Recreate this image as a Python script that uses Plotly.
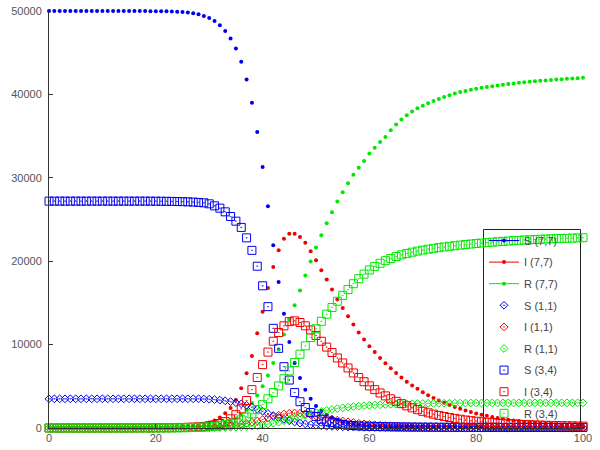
import plotly.graph_objects as go

t = list(range(101))

S77 = [50000, 50000, 50000, 50000, 50000, 50000, 50000, 50000, 50000, 50000,
       50000, 50000, 50000, 50000, 50000, 50000, 49995, 49993, 49990, 49985,
       49980, 49972, 49960, 49945, 49920, 49885, 49830, 49740, 49600, 49400,
       49150, 48800, 48300, 47600, 46700, 45500, 43900, 41800, 39000, 35500,
       31300, 26600, 21900, 17500, 13700, 10300, 7800, 6000, 4600, 3500,
       2650, 2050, 1600, 1250, 980, 780, 630, 510, 420, 350,
       300, 260, 230, 205, 185, 170, 158, 148, 140, 133,
       127, 122, 118, 114, 111, 108, 105, 103, 101, 99,
       97, 96, 95, 94, 93, 92, 92, 91, 91, 90,
       90, 89, 89, 89, 88, 88, 88, 87, 87, 87, 87]

I77 = [1, 1, 1, 2, 2, 2, 3, 3, 4, 4,
       5, 6, 7, 8, 9, 11, 13, 15, 18, 22,
       27, 36, 50, 68, 95, 130, 180, 250, 340, 470,
       650, 900, 1250, 1760, 2400, 3360, 4760, 6560, 8640, 11360,
       13950, 16800, 19300, 21300, 22700, 23300, 23300, 22900, 22200, 21200,
       20100, 18900, 17800, 16600, 15450, 14400, 13400, 12400, 11450, 10600,
       9800, 9100, 8400, 7750, 7150, 6600, 6050, 5550, 5100, 4700,
       4300, 3930, 3600, 3300, 3020, 2760, 2520, 2300, 2100, 1920,
       1750, 1600, 1460, 1330, 1210, 1100, 1000, 910, 830, 760,
       690, 630, 575, 525, 480, 440, 400, 365, 335, 305, 280]

R77 = [0, 0, 0, 0, 0, 0, 1, 1, 1, 1,
       1, 1, 2, 2, 2, 3, 3, 3, 4, 4,
       4, 6, 8, 12, 17, 25, 38, 57, 85, 125,
       185, 270, 390, 560, 800, 1150, 1600, 2200, 3000, 3900,
       5000, 6300, 7800, 9400, 11200, 13000, 14720, 16480, 18280, 19960,
       21640, 23120, 24560, 25880, 27160, 28280, 29360, 30360, 31200, 32000,
       32900, 33600, 34300, 34900, 35700, 36400, 37000, 37500, 37950, 38330,
       38650, 38930, 39200, 39450, 39700, 39910, 40110, 40280, 40420, 40560,
       40680, 40790, 40890, 40990, 41080, 41160, 41240, 41320, 41390, 41450,
       41510, 41570, 41630, 41680, 41730, 41780, 41830, 41870, 41910, 41950, 41990]

S11 = [3500, 3500, 3500, 3500, 3500, 3500, 3500, 3500, 3500, 3500,
       3500, 3500, 3500, 3500, 3500, 3500, 3500, 3500, 3500, 3500,
       3500, 3500, 3500, 3500, 3500, 3500, 3500, 3500, 3500, 3480,
       3450, 3400, 3340, 3260, 3160, 3040, 2900, 2720, 2500, 2250,
       2000, 1740, 1490, 1260, 1050, 870, 720, 590, 490, 400,
       330, 275, 230, 195, 165, 140, 120, 105, 92, 81,
       72, 65, 59, 54, 50, 46, 43, 40, 38, 36,
       34, 33, 33, 32, 32, 31, 31, 30, 30, 30,
       29, 29, 29, 28, 28, 28, 28, 27, 27, 27,
       27, 27, 26, 26, 26, 26, 26, 25, 25, 25, 25]

I11 = [0, 0, 0, 0, 0, 0, 1, 1, 1, 1,
       1, 2, 2, 2, 3, 3, 4, 5, 6, 7,
       8, 10, 12, 15, 19, 24, 30, 38, 48, 60,
       74, 100, 135, 185, 250, 330, 430, 550, 690, 840,
       1000, 1200, 1380, 1540, 1670, 1760, 1800, 1770, 1690, 1580,
       1450, 1320, 1190, 1070, 950, 840, 740, 650, 570, 500,
       440, 385, 335, 295, 258, 225, 197, 172, 150, 131,
       115, 100, 88, 77, 67, 59, 52, 46, 40, 35,
       31, 27, 24, 21, 18, 16, 14, 12, 11, 10,
       9, 8, 7, 6, 5, 5, 4, 4, 3, 3, 3]

R11 = [0, 0, 0, 0, 0, 0, 0, 0, 0, 0,
       0, 0, 0, 0, 0, 1, 1, 1, 1, 2,
       2, 3, 3, 4, 5, 6, 8, 10, 12, 15,
       24, 32, 42, 56, 74, 98, 130, 171, 224, 290,
       370, 467, 582, 714, 862, 1022, 1191, 1364, 1534, 1696,
       1848, 1987, 2114, 2228, 2329, 2418, 2496, 2564, 2624, 2676,
       2720, 2758, 2791, 2820, 2845, 2866, 2885, 2901, 2916, 2928,
       2939, 2948, 2957, 2964, 2970, 2976, 2981, 2986, 2990, 2993,
       2996, 2999, 3001, 3003, 3005, 3007, 3008, 3009, 3010, 3011,
       3012, 3013, 3014, 3014, 3015, 3015, 3016, 3016, 3016, 3017, 3017]

S34 = [27200, 27200, 27200, 27200, 27200, 27200, 27200, 27200, 27200, 27200,
       27200, 27200, 27200, 27200, 27200, 27200, 27200, 27200, 27200, 27200,
       27195, 27190, 27180, 27170, 27155, 27140, 27120, 27090, 27050, 27000,
       26880, 26640, 26360, 25920, 25360, 24800, 24050, 22800, 21300, 19400,
       17050, 14550, 11950, 9550, 7350, 5750, 4250, 3150, 2450, 1850,
       1380, 1050, 810, 640, 510, 420, 350, 300, 260, 230,
       205, 185, 170, 157, 146, 137, 129, 122, 116, 111,
       106, 102, 98, 95, 92, 89, 87, 85, 83, 81,
       80, 79, 78, 77, 76, 76, 75, 75, 74, 74,
       73, 73, 72, 72, 72, 71, 71, 71, 70, 70, 70]

I34 = [1, 1, 1, 1, 2, 2, 2, 3, 3, 4,
       4, 5, 6, 7, 8, 9, 11, 13, 15, 18,
       22, 27, 33, 41, 52, 66, 85, 110, 140, 190,
       270, 380, 540, 760, 1100, 1600, 2300, 3300, 4600, 6050,
       7600, 9100, 10400, 11450, 12250, 12750, 12850, 12650, 12250, 11750,
       11100, 10400, 9700, 9050, 8400, 7800, 7200, 6600, 6050, 5550,
       5050, 4600, 4200, 3850, 3500, 3200, 2920, 2660, 2420, 2200,
       2000, 1820, 1660, 1510, 1380, 1260, 1150, 1050, 960, 880,
       810, 750, 690, 640, 590, 550, 510, 480, 450, 420,
       390, 370, 350, 330, 310, 295, 280, 265, 250, 240, 230]

R34 = [0, 0, 0, 0, 0, 0, 0, 0, 0, 0,
       0, 0, 1, 1, 1, 1, 2, 2, 3, 4,
       5, 7, 10, 14, 20, 28, 40, 56, 78, 108,
       150, 210, 290, 400, 540, 730, 980, 1300, 1700, 2200,
       2800, 3500, 4250, 5050, 5900, 6850, 7850, 8850, 9850, 10850,
       11900, 12800, 13650, 14450, 15200, 15900, 16600, 17300, 17900, 18450,
       18950, 19380, 19750, 20060, 20330, 20560, 20760, 20930, 21080, 21210,
       21330, 21440, 21540, 21630, 21710, 21790, 21860, 21930, 22000, 22060,
       22120, 22180, 22230, 22280, 22330, 22380, 22420, 22460, 22500, 22540,
       22570, 22600, 22630, 22660, 22690, 22710, 22730, 22750, 22770, 22790, 22810]

names = ["S (7,7)", "I (7,7)", "R (7,7)", "S (1,1)", "I (1,1)", "R (1,1)",
         "S (3,4)", "I (3,4)", "R (3,4)"]
series = [S77, I77, R77, S11, I11, R11, S34, I34, R34]

BLUE, RED, GREEN = "#0000f0", "#f00000", "#00e800"
colors = [BLUE, RED, GREEN] * 3
symbols = ["circle"] * 3 + ["diamond-open-dot"] * 3 + ["square-open-dot"] * 3
sizes = [4] * 3 + [6] * 3 + [8] * 3

fig = go.Figure()

for i, (name, ys) in enumerate(zip(names, series)):
    col = colors[i]
    if i < 3:
        # legend sample with line + point
        fig.add_trace(go.Scatter(
            x=[None], y=[None], mode="lines+markers", name=name,
            legendgroup=name,
            line=dict(color=col, width=1),
            marker=dict(symbol="circle", size=4, color=col)))
        fig.add_trace(go.Scatter(
            x=t, y=ys, mode="markers", name=name, showlegend=False,
            legendgroup=name, cliponaxis=False,
            marker=dict(symbol="circle", size=4, color=col, line=dict(width=0))))
    else:
        fig.add_trace(go.Scatter(
            x=t, y=ys, mode="markers", name=name, legendgroup=name,
            cliponaxis=False,
            marker=dict(symbol=symbols[i], size=sizes[i], color=col,
                        line=dict(color=col, width=1))))

W, H = 600, 450
L, R_, T, B = 49, 17, 11, 22
pw, ph = W - L - R_, H - T - B

def px2paper_x(px):
    return (px - L) / pw

def px2paper_y(py):
    return (H - B - py) / ph

fig.update_layout(
    width=W, height=H,
    margin=dict(l=L, r=R_, t=T, b=B, autoexpand=False),
    paper_bgcolor="white", plot_bgcolor="white",
    font=dict(family="Liberation Sans, Arial, sans-serif", size=11, color="#444"),
    xaxis=dict(range=[0, 100], dtick=20, tick0=0, ticks="inside", ticklen=4,
               tickcolor="#333", showline=True, linecolor="#333", linewidth=1,
               showgrid=False, zeroline=False,
               tickfont=dict(size=11, color="#555")),
    yaxis=dict(range=[0, 50000], dtick=10000, tick0=0, ticks="inside", ticklen=4,
               tickcolor="#333", showline=True, linecolor="#333", linewidth=1,
               showgrid=False, zeroline=False, tickformat="d",
               ticklabelstandoff=4,
               tickfont=dict(size=11, color="#555")),
    showlegend=True,
    legend=dict(x=px2paper_x(484), xanchor="left", y=px2paper_y(226), yanchor="top",
                bgcolor="rgba(0,0,0,0)", borderwidth=0, itemwidth=30,
                tracegroupgap=2.6, traceorder="grouped",
                font=dict(size=11, color="#444")),
    shapes=[dict(type="rect", xref="paper", yref="paper",
                 x0=px2paper_x(483.5), x1=px2paper_x(580.5),
                 y0=px2paper_y(430), y1=px2paper_y(229.5),
                 line=dict(color="#222", width=1), layer="below")],
)

fig.write_html("out.html",
               config={"displayModeBar": False},
               post_script="document.body.style.margin='0';document.body.style.padding='0';")
